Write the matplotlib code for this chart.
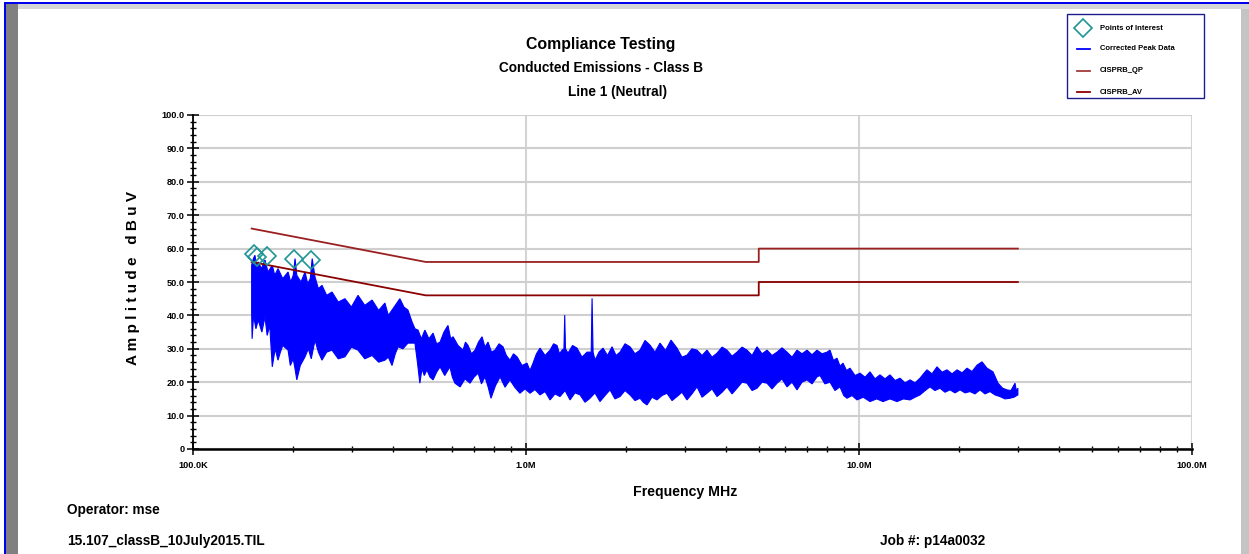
import numpy as np
import matplotlib
matplotlib.use('Agg')
import matplotlib.pyplot as plt
from matplotlib.patches import Rectangle
from matplotlib.lines import Line2D
from matplotlib import font_manager

# ---------------- data ----------------
qp_freq = [0.15, 0.5, 5.0, 5.0, 30.0]
qp_level = [66, 56, 56, 60, 60]
av_freq = [0.15, 0.5, 5.0, 5.0, 30.0]
av_level = [56, 46, 46, 50, 50]

poi_freq = [0.1528, 0.156, 0.1665, 0.2015, 0.2262]
poi_level = [58.3, 57.5, 57.8, 56.9, 56.7]

# corrected peak data: upper envelope (MHz, dBuV)
peak_upper = [
    (0.150, 55), (0.1518, 57), (0.1535, 58), (0.155, 55), (0.157, 56), (0.1605, 54),
    (0.1645, 56.6), (0.168, 53), (0.173, 55), (0.176, 52), (0.180, 54), (0.186, 51),
    (0.193, 53), (0.1965, 50), (0.200, 52), (0.2025, 57), (0.205, 52), (0.211, 50),
    (0.217, 53), (0.221, 49.5), (0.225, 51), (0.228, 57), (0.2325, 51.5), (0.238, 48),
    (0.244, 49), (0.252, 46), (0.2615, 47), (0.273, 44), (0.286, 45), (0.299, 42.5),
    (0.313, 46), (0.328, 43), (0.345, 44.6), (0.361, 41.5), (0.377, 43.7), (0.386, 40),
    (0.396, 41.6), (0.405, 43), (0.418, 45), (0.430, 42.5), (0.442, 41.6), (0.455, 38),
    (0.464, 36), (0.474, 35.6), (0.485, 33), (0.497, 35.6), (0.511, 33), (0.526, 34.7),
    (0.539, 31.5), (0.552, 32), (0.567, 35), (0.583, 37), (0.594, 33), (0.604, 33.6),
    (0.625, 31), (0.647, 29.6), (0.658, 32), (0.670, 31), (0.686, 28.5), (0.703, 29.6),
    (0.720, 32), (0.738, 33.6), (0.753, 30.5), (0.769, 32), (0.788, 29), (0.807, 29.6),
    (0.830, 31.5), (0.853, 30.6), (0.873, 28), (0.895, 26.6), (0.917, 28.5), (0.940, 27.6),
    (0.973, 25), (1.007, 25.7), (1.028, 23.5), (1.050, 25.7), (1.075, 28.5), (1.102, 30.2),
    (1.141, 28), (1.181, 29.6), (1.210, 31.5), (1.239, 31), (1.261, 28.5), (1.283, 29.6),
    (1.300, 30), (1.307, 40.1), (1.314, 30), (1.337, 28.7), (1.380, 31), (1.423, 30.2),
    (1.473, 27.5), (1.525, 29), (1.570, 29), (1.579, 45.1), (1.590, 29), (1.612, 26.6),
    (1.657, 29), (1.703, 30.2), (1.757, 28), (1.813, 30.6), (1.864, 28), (1.916, 29),
    (1.983, 31.5), (2.053, 30.6), (2.125, 28.5), (2.200, 29.6), (2.277, 32.5), (2.357, 31.1),
    (2.440, 29), (2.526, 31.7), (2.624, 29.5), (2.726, 32.6), (2.841, 30.2), (2.940, 27.5),
    (3.044, 28.1), (3.150, 30), (3.263, 29.6), (3.378, 28), (3.496, 29.6), (3.620, 27.5),
    (3.747, 28.7), (3.880, 30.5), (4.015, 29.6), (4.157, 27.8), (4.302, 29), (4.454, 30.5),
    (4.611, 29.6), (4.774, 28), (4.941, 30.6), (5.115, 28.5), (5.294, 29.6), (5.480, 28),
    (5.674, 29), (5.872, 30.3), (6.079, 29), (6.293, 27.5), (6.514, 29.6), (6.743, 28.5),
    (6.981, 29.6), (7.227, 28.2), (7.481, 29.6), (7.743, 28.5), (8.015, 29), (8.184, 29.6),
    (8.380, 26.5), (8.589, 27.2), (8.770, 24.8), (8.954, 25.7), (9.175, 23.5), (9.397, 24.2),
    (9.730, 22), (10.07, 22.7), (10.43, 21.5), (10.79, 23.1), (11.17, 21), (11.56, 22.2),
    (11.97, 21), (12.39, 22.2), (12.83, 20.5), (13.28, 21.2), (13.75, 19.8), (14.23, 20.7),
    (14.73, 19.8), (15.25, 21.2), (15.62, 22.5), (16.00, 23.7), (16.57, 22.5), (17.15, 24.6),
    (17.75, 23), (18.38, 23.7), (19.03, 22.5), (19.70, 23.7), (20.40, 22.8), (21.11, 24.2),
    (21.85, 23.2), (22.62, 25.1), (23.41, 26.1), (24.23, 24.2), (25.26, 23.1), (26.15, 19.7),
    (27.00, 18.2), (27.83, 17.7), (28.60, 17.5), (29.41, 19.7), (29.70, 17.3), (30.0, 18.2),
]
# corrected peak data: lower envelope (MHz, dBuV)
peak_lower = [
    (0.150, 41), (0.1505, 33), (0.152, 40), (0.1545, 36), (0.157, 38.6), (0.161, 35),
    (0.1645, 39.6), (0.167, 34), (0.170, 37), (0.173, 24.6), (0.1765, 30), (0.180, 26.6),
    (0.183, 29), (0.186, 31), (0.193, 29.6), (0.196, 25), (0.200, 27), (0.2025, 24),
    (0.205, 20.7), (0.210, 25), (0.217, 27.6), (0.222, 30), (0.2265, 27), (0.2325, 32.6),
    (0.238, 29), (0.244, 26.6), (0.252, 29), (0.2615, 29.6), (0.273, 27), (0.286, 27.6),
    (0.299, 30.5), (0.313, 29.6), (0.328, 27), (0.345, 28), (0.361, 26), (0.377, 26.6),
    (0.386, 27.5), (0.396, 25), (0.405, 28.5), (0.413, 30.6), (0.427, 30), (0.442, 31.7),
    (0.464, 31.7), (0.472, 26), (0.480, 19.7), (0.487, 24), (0.495, 22), (0.504, 23.7),
    (0.515, 21.5), (0.526, 20.7), (0.539, 23), (0.552, 24.6), (0.570, 22), (0.591, 24.6),
    (0.601, 21.5), (0.612, 19.7), (0.634, 18.6), (0.656, 21), (0.679, 19.7), (0.698, 21.5),
    (0.718, 22.7), (0.735, 19.5), (0.753, 21.6), (0.770, 18.5), (0.785, 15.2), (0.810, 19),
    (0.836, 21.6), (0.865, 18.5), (0.895, 20.7), (0.925, 18.5), (0.959, 16.7), (0.993, 18),
    (1.028, 16.7), (1.064, 17.8), (1.102, 16.2), (1.141, 17.2), (1.181, 14.7), (1.222, 16.5),
    (1.265, 15.7), (1.310, 17.5), (1.356, 14.7), (1.403, 16.8), (1.453, 16.2), (1.504, 14),
    (1.557, 15.2), (1.611, 16.8), (1.668, 14.2), (1.727, 16), (1.788, 17.7), (1.850, 15),
    (1.916, 15.7), (1.983, 17.5), (2.053, 16.2), (2.125, 14.5), (2.200, 15.2), (2.250, 14),
    (2.309, 13.2), (2.390, 15.5), (2.474, 14.7), (2.560, 16), (2.651, 16.7), (2.745, 14.5),
    (2.841, 15.7), (2.940, 17), (3.044, 14.7), (3.150, 16.5), (3.263, 18.6), (3.378, 15.5),
    (3.496, 16.7), (3.620, 18), (3.747, 15.7), (3.880, 17), (4.015, 18.6), (4.157, 16.5),
    (4.302, 18.2), (4.454, 20), (4.611, 19.7), (4.774, 17.5), (4.941, 18.2), (5.115, 20),
    (5.294, 19.7), (5.480, 18), (5.674, 19.7), (5.872, 21), (6.079, 18.6), (6.293, 20),
    (6.514, 17.7), (6.743, 20), (6.981, 20.7), (7.227, 19.5), (7.481, 21.6), (7.637, 22),
    (7.900, 19.5), (8.184, 20), (8.470, 17.5), (8.769, 18.6), (9.000, 16), (9.204, 15.2),
    (9.530, 16), (9.863, 14.7), (10.30, 15.5), (10.79, 14.2), (11.30, 15), (11.81, 14.2),
    (12.39, 15), (13.00, 14.2), (13.60, 15), (14.23, 14.7), (14.73, 15.5), (15.25, 16.2),
    (15.80, 17.5), (16.34, 18.6), (16.91, 17.5), (17.51, 18.2), (18.12, 17), (18.76, 17.7),
    (19.43, 16.8), (20.11, 17.7), (20.82, 16.8), (21.54, 17.2), (22.30, 16.5), (23.09, 17.7),
    (23.90, 16.5), (24.74, 17.2), (25.60, 16.2), (26.51, 15.7), (27.45, 15), (28.41, 15.2),
    (29.20, 15.5), (30.0, 16.2),
]
peak_upper_freq = [p[0] for p in peak_upper]
peak_upper_level = [p[1] for p in peak_upper]
peak_lower_freq = [p[0] for p in peak_lower]
peak_lower_level = [p[1] for p in peak_lower]

y_ticks = [0, 10, 20, 30, 40, 50, 60, 70, 80, 90, 100]
y_tick_labels = ['0', '10.0', '20.0', '30.0', '40.0', '50.0', '60.0', '70.0', '80.0', '90.0', '100.0']
x_ticks = [0.1, 1.0, 10.0, 100.0]
x_tick_labels = ['100.0K', '1.0M', '10.0M', '100.0M']
legend_labels = ['Points of Interest', 'Corrected Peak Data', 'CISPRB_QP', 'CISPRB_AV']

# ---------------- fonts ----------------
names = {f.name for f in font_manager.fontManager.ttflist}
if 'Liberation Sans Narrow' in names:
    NARROW = ['Liberation Sans Narrow', 'DejaVu Sans']
    k = 1.0
else:
    NARROW = ['Liberation Sans', 'DejaVu Sans']
    k = 0.85
WIDE = ['Liberation Sans', 'DejaVu Sans']

W, H = 1249, 554
fig = plt.figure(figsize=(W / 100, H / 100), dpi=100)
fig.patch.set_facecolor('white')


def fx(x):
    return x / W


def fy(y):
    return 1 - y / H


def rect(x0, y0, x1, y1, color):
    fig.add_artist(Rectangle((fx(x0), fy(y1)), (x1 - x0) / W, (y1 - y0) / H,
                             transform=fig.transFigure, facecolor=color,
                             edgecolor='none', zorder=0))


# window frame
rect(6, 4, 1249, 9, '#d6d6d6')
rect(6, 4, 18, 554, '#808080')
rect(1241, 9, 1249, 554, '#c4c4c4')
rect(4, 2, 1249, 4, '#0000ee')
rect(4, 2, 6, 554, '#0000ee')

# ---------------- axes ----------------
ax = fig.add_axes([fx(193), fy(449), (1192 - 193) / W, (449 - 115) / H])
ax.set_facecolor('white')
ax.set_xscale('log')
ax.set_xlim(0.1, 100)
ax.set_ylim(0, 100)

for s in ['top', 'right']:
    ax.spines[s].set_visible(False)
ax.spines['left'].set_linewidth(1.3)
ax.spines['bottom'].set_linewidth(1.8)

ax.set_yticks(y_ticks)
ax.set_yticklabels(y_tick_labels)
ax.set_yticks(np.arange(0, 101, 2), minor=True)
ax.set_xticks(x_ticks)
ax.set_xticklabels(x_tick_labels)
minor_x = [m * d for d in (0.1, 1.0, 10.0) for m in range(2, 10)]
ax.set_xticks(minor_x, minor=True)
ax.xaxis.set_minor_formatter(matplotlib.ticker.NullFormatter())

ax.tick_params(which='major', direction='inout', length=8, width=1.1, colors='black')
ax.tick_params(which='minor', direction='inout', length=5, width=1.0, colors='black')
ax.tick_params(axis='y', which='major', pad=2)
ax.tick_params(axis='x', which='major', pad=5)
for lab in ax.get_yticklabels() + ax.get_xticklabels():
    lab.set_fontfamily(NARROW)
    lab.set_fontweight('bold')
    lab.set_fontsize(6.8 * k / 0.85 if k == 1.0 else 6.6)

ax.grid(axis='y', which='major', color='#cfcfcf', lw=1.5)
ax.grid(axis='x', which='major', color='#d4d4d4', lw=1.5)
ax.set_axisbelow(True)

# corrected peak data as envelope polygon
px = np.concatenate([peak_upper_freq, peak_lower_freq[::-1]])
py = np.concatenate([peak_upper_level, peak_lower_level[::-1]])
ax.fill(px, py, facecolor='#0000ff', edgecolor='#0000ff', lw=0.8, zorder=3)

ax.plot(qp_freq, qp_level, color='#9a2020', lw=1.3, zorder=4)
ax.plot(av_freq, av_level, color='#8b0000', lw=1.3, zorder=4)
ax.plot(poi_freq, poi_level, linestyle='none', marker='D', markersize=9.5,
        markerfacecolor='none', markeredgecolor='#1f9595', markeredgewidth=1.2, zorder=5)

# ---------------- texts ----------------
fig.text(fx(601), fy(45), 'Compliance Testing', ha='center', va='center',
         fontsize=13.5 * k, fontweight='bold', family=NARROW)
fig.text(fx(601), fy(68), 'Conducted Emissions - Class B', ha='center', va='center',
         fontsize=11.5 * k, fontweight='bold', family=NARROW)
fig.text(fx(617), fy(92), 'Line 1 (Neutral)', ha='center', va='center',
         fontsize=11.5 * k, fontweight='bold', family=NARROW)
fig.text(fx(133), fy(278), 'A m p l i t u d e   d B u V', ha='center', va='center',
         rotation=90, fontsize=11, fontweight='bold', family=WIDE)
fig.text(fx(685), fy(492), 'Frequency MHz', ha='center', va='center',
         fontsize=12 * k, fontweight='bold', family=NARROW)
fig.text(fx(67), fy(510), 'Operator: mse', ha='left', va='center',
         fontsize=11.5 * k, fontweight='bold', family=NARROW)
fig.text(fx(67), fy(541), '15.107_classB_10July2015.TIL', ha='left', va='center',
         fontsize=11.5 * k, fontweight='bold', family=NARROW)
fig.text(fx(880), fy(541), 'Job #: p14a0032', ha='left', va='center',
         fontsize=11.5 * k, fontweight='bold', family=NARROW)

# ---------------- legend (manual box) ----------------
fig.add_artist(Rectangle((fx(1067), fy(98)), (1204 - 1067) / W, (98 - 14) / H,
                         transform=fig.transFigure, facecolor='white',
                         edgecolor='#1c1c8c', lw=1.0, zorder=5))
ly = [28, 49, 71, 92]
fig.add_artist(Line2D([fx(1083)], [fy(ly[0])], transform=fig.transFigure, linestyle='none',
                      marker='D', markersize=9.5, markerfacecolor='none',
                      markeredgecolor='#1f9595', markeredgewidth=1.2, zorder=6))
for yy, c in zip(ly[1:], ['#0000ff', '#a03a3a', '#8b0000']):
    fig.add_artist(Line2D([fx(1077), fx(1090)], [fy(yy), fy(yy)], transform=fig.transFigure,
                          color=c, lw=1.3, zorder=6))
for yy, lab in zip(ly, legend_labels):
    fig.text(fx(1100), fy(yy), lab, ha='left', va='center', fontsize=6.5 * k,
             fontweight='bold', family=NARROW, zorder=7)

fig.savefig('out.png', dpi=100, facecolor='white')
